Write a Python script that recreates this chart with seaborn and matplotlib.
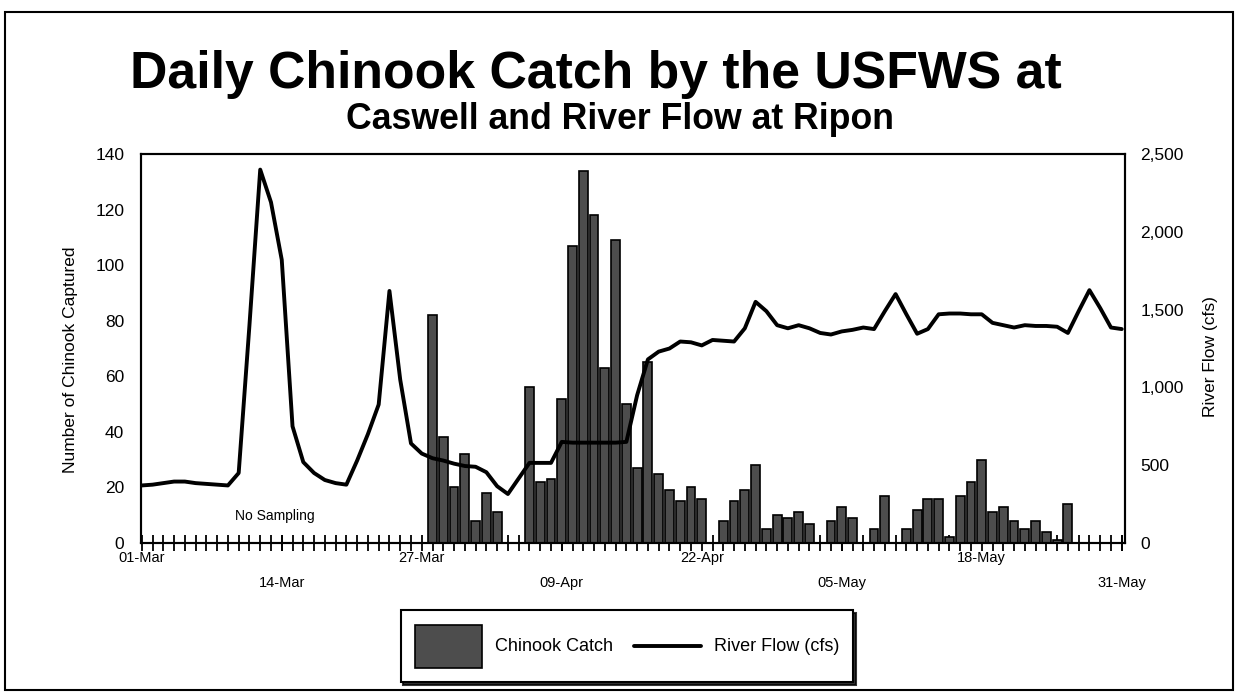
import numpy as np
import pandas as pd
import matplotlib
matplotlib.use("Agg")
import matplotlib.pyplot as plt
import matplotlib.ticker as mticker
from matplotlib import font_manager as fm
from matplotlib.patches import Rectangle
from matplotlib.legend_handler import HandlerLine2D
import seaborn as sns

dates = pd.date_range("2001-03-01", "2001-05-31", freq="D")

# river flow at Ripon (cfs), one value per day 01-Mar .. 31-May
flow = [370, 375, 385, 395, 395, 385, 380, 375, 370, 450,
        1400, 2400, 2190, 1820, 750, 520, 450, 405, 385, 375,
        530, 700, 890, 1620, 1050, 640, 575, 545, 530, 510,
        495, 490, 455, 365, 315, 415, 515, 515, 515, 650,
        645, 645, 645, 645, 645, 650, 950, 1180, 1230, 1250,
        1295, 1290, 1270, 1305, 1300, 1295, 1380, 1550, 1490, 1400,
        1380, 1400, 1380, 1350, 1340, 1360, 1370, 1385, 1375, 1490,
        1600, 1470, 1345, 1375, 1470, 1475, 1475, 1470, 1470, 1415,
        1400, 1385, 1400, 1395, 1395, 1390, 1350, 1490, 1625, 1510,
        1385, 1375]

# chinook caught per day, no sampling before 28-Mar
catch = [None] * 27 + [
    82, 38, 20, 32, 8, 18, 11, 0, 0, 56,
    22, 23, 52, 107, 134, 118, 63, 109, 50, 27,
    65, 25, 19, 15, 20, 16, 0, 8, 15, 19,
    28, 5, 10, 9, 11, 7, 0, 8, 13, 9,
    0, 5, 17, 0, 5, 12, 16, 16, 2, 17,
    22, 30, 11, 13, 8, 5, 8, 4, 1, 14,
    0, 0, 0, 0, 0]

upper_labels = ["01-Mar", "27-Mar", "22-Apr", "18-May"]
lower_labels = ["14-Mar", "09-Apr", "05-May", "31-May"]
catch_ticks = [0, 20, 40, 60, 80, 100, 120, 140]
flow_ticks = [0, 500, 1000, 1500, 2000, 2500]

df = pd.DataFrame({"day": np.arange(len(dates)),
                   "date": dates.strftime("%d-%b"),
                   "flow": flow,
                   "catch": pd.to_numeric(pd.Series(catch), errors="coerce")})
day_of = {d: i for i, d in zip(df["day"], df["date"])}

sns.set_theme(style="white", rc={"axes.edgecolor": "black",
                                 "axes.linewidth": 1.5,
                                 "text.color": "black",
                                 "axes.labelcolor": "black",
                                 "xtick.color": "black",
                                 "ytick.color": "black"})
plt.rcParams["font.family"] = ["Liberation Sans", "DejaVu Sans"]

# the title in the original is a narrow bold face
try:
    fm.findfont(fm.FontProperties(family="Liberation Sans Narrow", weight="bold"),
                fallback_to_default=False)
    title_family, tscale = "Liberation Sans Narrow", 1.0
except ValueError:
    title_family, tscale = "Liberation Sans", 0.82


class CenteredLine(HandlerLine2D):
    # keep the legend line level with the (tall) bar swatch
    def create_artists(self, legend, orig_handle, xdescent, ydescent,
                       width, height, fontsize, trans):
        arts = super().create_artists(legend, orig_handle, xdescent, ydescent,
                                      width, height, fontsize, trans)
        for a in arts:
            a.set_ydata(np.asarray(a.get_ydata()) - ydescent / 2)
        return arts


fig = plt.figure(figsize=(12.38, 6.96), dpi=100)
ax = fig.add_axes([0.1139, 0.2198, 0.7948, 0.5589])

sns.barplot(data=df.dropna(subset=["catch"]), x="day", y="catch",
            native_scale=True, width=0.82, color="#4d4d4d", saturation=1,
            edgecolor="black", linewidth=1.2, errorbar=None,
            label="Chinook Catch", ax=ax)

ax2 = ax.twinx()
sns.lineplot(data=df, x="day", y="flow", color="black", linewidth=2.8,
             label="River Flow (cfs)", ax=ax2)

for a in (ax, ax2):
    if a.get_legend() is not None:
        a.get_legend().remove()

ax.set_xlim(-0.07, 91.3)
ax.set_ylim(0, 140)
ax.set_yticks(catch_ticks)
ax2.set_ylim(0, 2500)
ax2.set_yticks(flow_ticks)
ax2.yaxis.set_major_formatter(mticker.StrMethodFormatter("{x:,.0f}"))

# daily tick marks, labels staggered on two rows
ax.set_xticks(df["day"], labels=[d if d in upper_labels else "" for d in df["date"]])
ax.set_xticks([day_of[d] for d in lower_labels], labels=lower_labels, minor=True)
ax.xaxis.remove_overlapping_locs = False
ax.tick_params(axis="x", which="both", bottom=True, direction="inout", length=11,
               width=1.3, labelsize=10.5, pad=0)
ax.tick_params(axis="x", which="minor", pad=18)
ax.tick_params(axis="y", length=0, pad=12, labelsize=12.5)
ax2.tick_params(axis="y", length=0, pad=11, labelsize=12.5)

ax.set_xlabel("")
ax.set_ylabel("Number of Chinook Captured", fontsize=12.5)
ax.yaxis.set_label_coords(-0.064, 0.47)
ax2.set_ylabel("River Flow (cfs)", fontsize=12.5)
ax2.yaxis.set_label_coords(1.079, 0.48)

ax.text(12.4, 9.7, "No Sampling", ha="center", va="center", fontsize=10)

fig.text(0.481, 0.874, "Daily Chinook Catch by the USFWS at", ha="center",
         va="baseline", fontsize=45.5 * tscale, fontweight="bold", family=title_family)
fig.text(0.501, 0.815, "Caswell and River Flow at Ripon", ha="center",
         va="baseline", fontsize=31.3 * tscale, fontweight="bold", family=title_family)

h1, l1 = ax.get_legend_handles_labels()
h2, l2 = ax2.get_legend_handles_labels()
leg = fig.legend(h1 + h2, l1 + l2, loc="center", bbox_to_anchor=(0.5065, 0.0715),
                 ncol=2, fontsize=13, handlelength=3.7, handleheight=3.3,
                 handletextpad=0.7, columnspacing=1.2, borderpad=0.8,
                 frameon=True, fancybox=False, edgecolor="black",
                 shadow={"color": "black", "alpha": 0.8},
                 handler_map={h2[0]: CenteredLine()})
leg.get_frame().set_linewidth(1.5)

fig.add_artist(Rectangle((0.004, 0.0086), 0.992, 0.974, transform=fig.transFigure,
                         fill=False, edgecolor="black", linewidth=1.5))

fig.savefig("out.png", dpi=100, facecolor="white")
